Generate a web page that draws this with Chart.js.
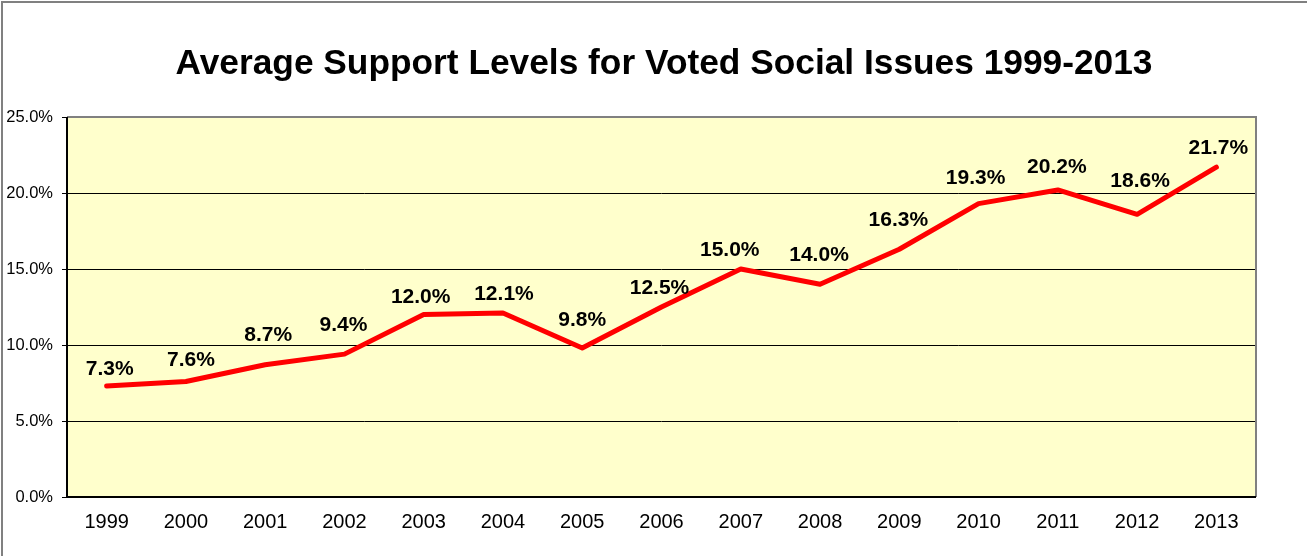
<!DOCTYPE html>
<html>
<head>
<meta charset="utf-8">
<script src="https://cdn.jsdelivr.net/npm/chart.js@4/dist/chart.umd.min.js"></script>
<style>
  html, body { margin: 0; padding: 0; background: #fff; }
  #wrap { width: 1307px; height: 556px; position: relative; }
</style>
</head>
<body>
<div id="wrap"><canvas id="chart" width="1307" height="556"></canvas></div>
<script>
// Data
const years = ['1999', '2000', '2001', '2002', '2003', '2004', '2005', '2006',
               '2007', '2008', '2009', '2010', '2011', '2012', '2013'];
const support = [7.3, 7.6, 8.7, 9.4, 12.0, 12.1, 9.8, 12.5, 15.0, 14.0, 16.3, 19.3, 20.2, 18.6, 21.7];
const yTicks = [0, 5, 10, 15, 20, 25];
const titleText = 'Average Support Levels for Voted Social Issues 1999-2013';

// label nudges (px) relative to each point, as hand-placed in the original
const labelShiftX = [3, 5, 3, -1, -3, 1, 0, -2, -11, -1, -1, -3, -1, 3, 2];
const labelShiftY = [-17, -21, -30, -29, -17, -19, -28, -19, -19, -29, -29, -25, -23, -33, -19];

const FONT = 'Arial, "Liberation Sans", sans-serif';

// Outer frame, plot background and title
const framePlugin = {
    id: 'frame',
    beforeDraw(chart) {
        const ctx = chart.ctx;
        const a = chart.chartArea;
        ctx.save();
        ctx.fillStyle = '#FFFFCC';
        ctx.fillRect(a.left, a.top, a.right - a.left, a.bottom - a.top);
        ctx.strokeStyle = '#808080';
        ctx.lineWidth = 2;
        ctx.beginPath();
        ctx.moveTo(2, chart.height);
        ctx.lineTo(2, 2);
        ctx.lineTo(chart.width, 2);
        ctx.stroke();
        ctx.fillStyle = '#000';
        ctx.font = 'bold 35.3px ' + FONT;
        ctx.textAlign = 'center';
        ctx.textBaseline = 'alphabetic';
        ctx.fillText(titleText, 664, 74);
        ctx.restore();
    },
    afterDraw(chart) {
        // plot border: gray top/right, dark left/bottom
        const ctx = chart.ctx;
        const a = chart.chartArea;
        ctx.save();
        ctx.lineWidth = 2;
        ctx.strokeStyle = '#808080';
        ctx.beginPath();
        ctx.moveTo(a.left, a.top);
        ctx.lineTo(a.right, a.top);
        ctx.lineTo(a.right, a.bottom);
        ctx.stroke();
        ctx.strokeStyle = '#000';
        ctx.beginPath();
        ctx.moveTo(a.left, a.top);
        ctx.lineTo(a.left, a.bottom);
        ctx.lineTo(a.right, a.bottom);
        ctx.stroke();
        ctx.restore();
    }
};

// Value labels above each point
const labelPlugin = {
    id: 'valueLabels',
    afterDatasetsDraw(chart) {
        const ctx = chart.ctx;
        const meta = chart.getDatasetMeta(0);
        ctx.save();
        ctx.fillStyle = '#000';
        ctx.font = 'bold 21px ' + FONT;
        ctx.textAlign = 'center';
        ctx.textBaseline = 'middle';
        meta.data.forEach((pt, i) => {
            ctx.fillText(support[i].toFixed(1) + '%', pt.x + labelShiftX[i], pt.y + labelShiftY[i]);
        });
        ctx.restore();
    }
};

new Chart(document.getElementById('chart'), {
    type: 'line',
    data: {
        labels: years,
        datasets: [{
            data: support,
            borderColor: '#FF0000',
            borderWidth: 5,
            borderCapStyle: 'round',
            borderJoinStyle: 'round',
            pointRadius: 0,
            tension: 0,
            fill: false
        }]
    },
    options: {
        responsive: false,
        animation: false,
        layout: { padding: { top: 117, right: 51, left: 0, bottom: 0 } },
        plugins: {
            legend: { display: false },
            title: { display: false },
            tooltip: { enabled: false }
        },
        scales: {
            x: {
                offset: true,
                grid: { display: false, drawTicks: false },
                border: { display: false },
                ticks: {
                    color: '#000',
                    font: { family: FONT, size: 20 },
                    padding: 13,
                    maxRotation: 0,
                    autoSkip: false
                },
                afterFit(scale) { scale.height = 59; }
            },
            y: {
                min: 0,
                max: 25,
                afterBuildTicks(scale) {
                    scale.ticks = yTicks.map(v => ({ value: v }));
                },
                grid: {
                    color: '#000',
                    lineWidth: 1,
                    drawTicks: true,
                    tickLength: 5,
                    tickColor: '#000'
                },
                border: { display: false },
                ticks: {
                    color: '#000',
                    font: { family: FONT, size: 16.5 },
                    padding: 9,
                    callback: v => v.toFixed(1) + '%'
                },
                afterFit(scale) { scale.width = 67; }
            }
        }
    },
    plugins: [framePlugin, labelPlugin]
});
</script>
</body>
</html>
